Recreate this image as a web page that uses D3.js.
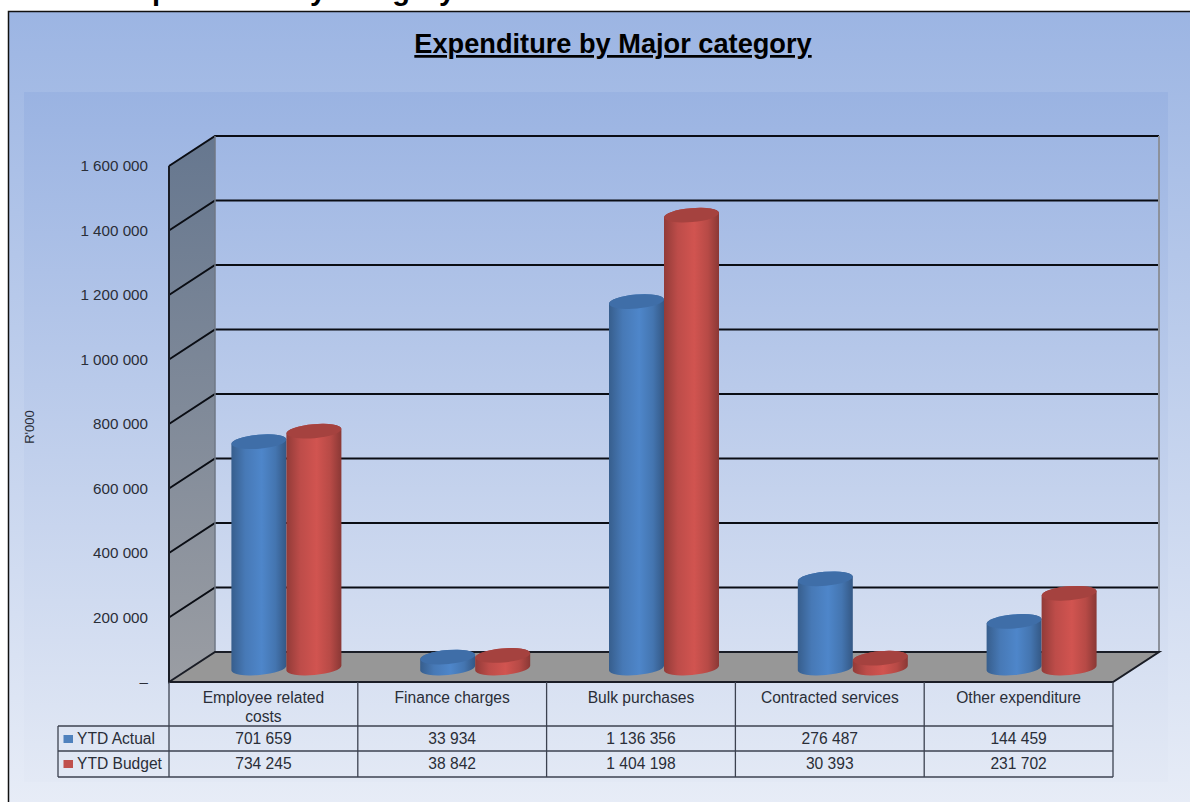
<!DOCTYPE html>
<html lang="en">
<head>
<meta charset="UTF-8">
<title>Expenditure by Major category</title>
<script src="https://d3js.org/d3.v7.min.js"></script>
<style>
    body { margin: 0; background: #fff; overflow: hidden; }
    svg { display: block; font-family: "Liberation Sans", Arial, sans-serif; }
    text { fill: #2a2e38; }
</style>
</head>
<body>
<div class="container"></div>
<script>
    const categories = [["Employee related", "costs"], ["Finance charges"], ["Bulk purchases"], ["Contracted services"], ["Other expenditure"]];
    const seriesNames = ["YTD Actual", "YTD Budget"];
    const ytdActual = [701659, 33934, 1136356, 276487, 144459];
    const ytdBudget = [734245, 38842, 1404198, 30393, 231702];
    const tickValues = [0, 200000, 400000, 600000, 800000, 1000000, 1200000, 1400000, 1600000];
    const colours = ["#4f81bd", "#c0504d"];

    const width = 1190, height = 802;
    const plotLeft = 169, plotRight = 1113, plotTop = 166, plotBottom = 682;
    const depthX = 46, depthY = -30;   // offset of the back wall
    const midX = 23, midY = -14;       // bars stand half way into the floor
    const barRy = 7, tilt = 5;

    const svg = d3.select(".container").append("svg")
        .attr("width", width).attr("height", height);
    const defs = svg.append("defs");

    function vGradient(id, a, b) {
        const g = defs.append("linearGradient").attr("id", id)
            .attr("x1", 0).attr("y1", 0).attr("x2", 0).attr("y2", 1);
        g.append("stop").attr("offset", "0%").attr("stop-color", a);
        g.append("stop").attr("offset", "100%").attr("stop-color", b);
    }
    vGradient("bgOuter", "#9cb5e3", "#e8edf7");
    vGradient("bgInner", "#9ab3e2", "#e3e9f5");
    vGradient("wall", "#66778f", "#9a9da3");

    // shading across a cylinder, dark edges and lighter middle
    function barGradient(id, c) {
        const base = d3.color(c);
        const g = defs.append("linearGradient").attr("id", id);
        [[0, 0.72], [0.25, 0.93], [0.55, 1.03], [0.8, 0.9], [1, 0.68]].forEach(s => {
            const col = d3.rgb(base.r * s[1], base.g * s[1], base.b * s[1]);
            g.append("stop").attr("offset", s[0] * 100 + "%").attr("stop-color", col.formatHex());
        });
    }
    barGradient("barActual", "#4c82c4");
    barGradient("barBudget", "#cb524e");

    // background
    svg.append("text").attr("x", -1).attr("y", 0)
        .attr("font-size", 29).attr("font-weight", "bold").style("fill", "#000")
        .text("Chart 5: Expenditure by category");
    svg.append("rect").attr("x", 8.5).attr("y", 11.5).attr("width", width).attr("height", height)
        .attr("fill", "url(#bgOuter)").attr("stroke", "#111").attr("stroke-width", 1.5);
    svg.append("rect").attr("x", 24).attr("y", 92).attr("width", 1144).attr("height", 690)
        .attr("fill", "url(#bgInner)");

    svg.append("text").attr("x", 613).attr("y", 53)
        .attr("text-anchor", "middle").attr("font-size", 27.2).attr("font-weight", "bold")
        .attr("text-decoration", "underline").style("fill", "#000")
        .text("Expenditure by Major category");

    const y = d3.scaleLinear().domain([0, 1600000]).range([plotBottom, plotTop]);
    const x = d3.scaleBand().domain(d3.range(categories.length)).range([plotLeft, plotRight]);

    // walls and floor
    svg.append("path")
        .attr("d", `M${plotLeft},${plotBottom}V${plotTop}l${depthX},${depthY}V${plotBottom + depthY}Z`)
        .attr("fill", "url(#wall)");
    svg.append("path")
        .attr("d", `M${plotLeft},${plotBottom}l${depthX},${depthY}H${plotRight + depthX}l${-depthX},${-depthY}Z`)
        .attr("fill", "#979797");

    // gridlines, side wall then back wall
    const grid = svg.append("g").attr("fill", "none").attr("stroke", "#0a0d14").attr("stroke-width", 2);
    grid.selectAll("path").data(tickValues.slice(1)).join("path")
        .attr("d", d => `M${plotLeft},${y(d)}l${depthX},${depthY}H${plotRight + depthX}`);
    svg.append("path")
        .attr("d", `M${plotLeft + depthX},${plotTop + depthY}V${plotBottom + depthY}`)
        .attr("stroke", "#6f7785").attr("stroke-width", 1.5);
    svg.append("path")
        .attr("d", `M${plotRight + depthX},${plotTop + depthY}V${plotBottom + depthY}`)
        .attr("stroke", "#8c919b").attr("stroke-width", 2);
    svg.append("path")
        .attr("d", `M${plotLeft},${plotTop}V${plotBottom}l${depthX},${depthY}H${plotRight + depthX}l${-depthX},${-depthY}H${plotLeft}`)
        .attr("fill", "none").attr("stroke", "#1a1d26").attr("stroke-width", 2);

    // value axis
    const locale = d3.formatLocale({ decimal: ".", thousands: "\u00a0", grouping: [3], currency: ["", ""] });
    const fmt = locale.format(",d");
    const yAxis = d3.axisLeft(y).tickValues(tickValues).tickSize(0).tickPadding(21)
        .tickFormat(d => d === 0 ? "\u2013" : fmt(d));
    const axisG = svg.append("g").attr("transform", `translate(${plotLeft},0)`).call(yAxis);
    axisG.select(".domain").remove();
    axisG.selectAll("text").attr("font-size", 15.2).attr("font-family", "Liberation Sans");

    svg.append("text").attr("transform", "translate(34,427) rotate(-90)")
        .attr("text-anchor", "middle").attr("font-size", 13).text("R'000");

    // cylinders
    const inner = d3.scaleBand().domain([0, 1]).range([-55, 55]);
    const rx = inner.bandwidth() / 2;
    const sx = rx * Math.sin(tilt * Math.PI / 180);
    const series = [ytdActual, ytdBudget];
    const ids = ["barActual", "barBudget"];
    const topFill = ["#3f6ea8", "#a5423f"];

    const bars = [];
    categories.forEach((c, i) => series.forEach((s, k) => bars.push({ i, k, v: s[i] })));

    const barG = svg.append("g").selectAll("g").data(bars).join("g")
        .attr("transform", d => {
            const cx = x(d.i) + x.bandwidth() / 2 + midX + inner(d.k) + rx;
            return `translate(${cx},${midY})`;
        });
    barG.append("path")
        .attr("fill", d => `url(#${ids[d.k]})`)
        .attr("d", d => {
            const yb = y(0), yt = y(d.v);
            return `M${-rx},${yt + sx}V${yb + sx}A${rx},${barRy} ${-tilt} 0 0 ${rx},${yb - sx}V${yt - sx}A${rx},${barRy} ${-tilt} 0 0 ${-rx},${yt + sx}Z`;
        });
    barG.append("ellipse")
        .attr("rx", rx).attr("ry", barRy)
        .attr("transform", d => `translate(0,${y(d.v)}) rotate(${-tilt})`)
        .attr("fill", d => topFill[d.k]);

    // data table
    const rowY = [plotBottom, 726, 751, 777];
    const legendX = 58;
    const table = svg.append("g").attr("fill", "none").attr("stroke", "#3c4250").attr("stroke-width", 1.3);
    x.domain().forEach(i => {
        table.append("line").attr("x1", x(i)).attr("x2", x(i)).attr("y1", rowY[0]).attr("y2", rowY[3]);
    });
    table.append("line").attr("x1", plotRight).attr("x2", plotRight).attr("y1", rowY[0]).attr("y2", rowY[3]);
    rowY.slice(1).forEach(ry => {
        table.append("line").attr("x1", legendX).attr("x2", plotRight).attr("y1", ry).attr("y2", ry);
    });
    table.append("line").attr("x1", legendX).attr("x2", legendX).attr("y1", rowY[1]).attr("y2", rowY[3]);

    categories.forEach((lines, i) => {
        const cx = x(i) + x.bandwidth() / 2;
        lines.forEach((l, n) => {
            svg.append("text").attr("x", cx).attr("y", 703 + n * 19)
                .attr("text-anchor", "middle").attr("font-size", 15.6).text(l);
        });
        series.forEach((s, k) => {
            svg.append("text").attr("x", cx).attr("y", rowY[k + 1] + 18)
                .attr("text-anchor", "middle").attr("font-size", 15.6).text(fmt(s[i]));
        });
    });
    seriesNames.forEach((name, k) => {
        svg.append("rect").attr("x", 63.5).attr("y", rowY[k + 1] + 9).attr("width", 9.5).attr("height", 8)
            .attr("fill", colours[k]);
        svg.append("text").attr("x", 77).attr("y", rowY[k + 1] + 17.5)
            .attr("font-size", 15.6).text(name);
    });
</script>
</body>
</html>
